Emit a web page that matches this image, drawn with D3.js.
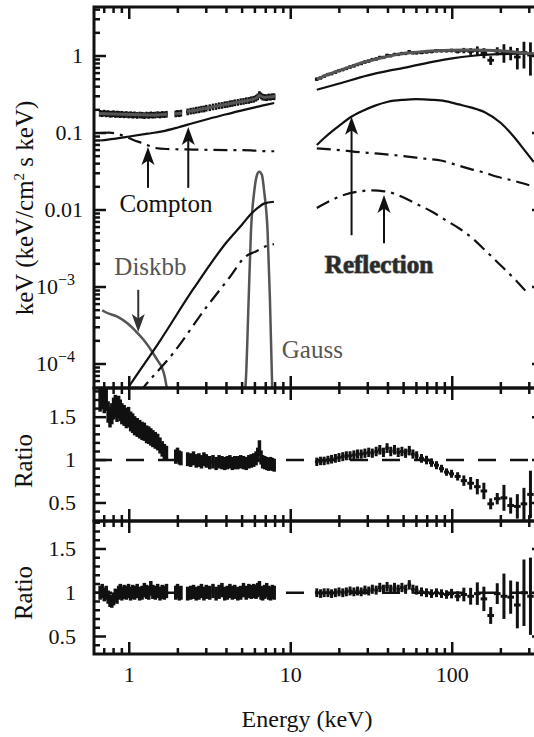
<!DOCTYPE html>
<html>
<head>
<meta charset="utf-8">
<script src="https://cdn.jsdelivr.net/npm/d3@7"></script>
<style>
  body { margin: 0; background: #fff; }
  svg { display: block; }
</style>
</head>
<body>
<div id="chart"></div>
<script>
'use strict';

// ---- low energy band (XIS) ----
const xisEnergy = [0.66,0.68,0.70,0.72,0.74,0.76,0.78,0.80,0.82,0.84,0.86,0.88,0.90,0.93,0.96,0.99,1.02,1.05,1.08,1.12,1.16,1.20,1.24,1.28,1.32,1.36,1.40,1.45,1.50,1.55,1.60,1.65,1.70,
  1.94,1.99,2.04,2.09,
  2.30,2.40,2.50,2.60,2.70,2.80,2.90,3.00,3.15,3.30,3.45,3.60,3.75,3.90,4.05,4.20,4.35,4.50,4.70,4.90,5.10,5.30,5.50,5.70,5.90,6.10,6.25,6.40,6.55,6.70,6.90,7.10,7.30,7.50,7.70,7.90];
const xisFlux = [0.181,0.179,0.182,0.178,0.180,0.176,0.177,0.179,0.175,0.177,0.176,0.174,0.176,0.173,0.175,0.172,0.174,0.171,0.173,0.170,0.172,0.171,0.169,0.172,0.170,0.173,0.171,0.172,0.174,0.172,0.175,0.174,0.176,
  0.178,0.181,0.179,0.182,
  0.189,0.193,0.195,0.199,0.201,0.205,0.206,0.211,0.214,0.219,0.222,0.227,0.229,0.234,0.236,0.241,0.243,0.248,0.251,0.256,0.259,0.264,0.266,0.272,0.276,0.285,0.296,0.318,0.305,0.294,0.291,0.289,0.295,0.293,0.298,0.297];
const xisRatioPL = [1.70,1.73,1.68,1.71,1.56,1.50,1.54,1.60,1.63,1.57,1.62,1.58,1.54,1.52,1.49,1.50,1.45,1.43,1.40,1.38,1.36,1.34,1.33,1.30,1.29,1.27,1.25,1.23,1.21,1.17,1.13,1.10,1.08,
  1.04,1.06,1.03,1.02,
  1.01,1.00,1.02,0.99,1.00,0.98,1.01,0.99,0.97,0.98,0.96,0.98,0.97,0.96,0.97,0.98,0.96,0.97,0.97,0.98,0.97,0.96,0.98,0.99,1.00,1.02,1.06,1.14,1.03,0.98,0.97,0.96,0.95,0.96,0.95,0.94];
const xisRatioFit = [1.00,1.02,0.98,1.00,0.95,0.91,0.90,0.93,0.97,0.95,1.00,1.02,0.99,1.01,1.00,1.02,0.99,1.01,1.00,1.02,0.99,1.00,1.03,1.01,1.00,1.05,1.01,1.00,1.02,0.99,1.01,1.00,1.02,
  1.00,1.02,0.99,1.00,
  0.99,1.00,1.01,0.99,1.00,1.02,0.99,1.01,1.00,1.02,0.99,1.01,1.03,0.99,1.00,1.02,1.00,1.01,0.99,1.00,1.03,1.00,1.02,1.01,1.02,1.01,1.03,1.05,1.00,0.99,1.01,1.03,1.00,0.99,1.01,1.00];
const xisFluxErr = 0.1;
const xisRatioErr = 0.08;

// ---- high energy band (HXD) ----
const hxdEnergy = [14.5,15.3,16.1,17,17.9,18.9,19.9,21,22.1,23.3,24.6,25.9,27.3,28.8,30.4,32,33.8,35.6,37.5,39.5,41.6,43.9,46.3,48.8,
  51.4,54.2,57.1,60.2,64.5,69.3,74.4,79.9,85.8,92.2,99,108,118,130,143,157,173,190,209,230,253,278,305];
const hxdFlux = [0.50,0.52,0.545,0.575,0.59,0.615,0.645,0.665,0.69,0.72,0.745,0.775,0.80,0.835,0.86,0.90,0.915,0.96,0.96,1.02,1.01,1.05,1.05,1.08,
  1.08,1.14,1.10,1.10,1.11,1.13,1.14,1.17,1.17,1.17,1.18,1.15,1.18,1.15,1.18,1.10,0.88,1.16,1.12,1.10,0.97,1.11,1.03];
const hxdRatioPL = [0.98,0.99,0.99,1.00,1.01,1.02,1.03,1.04,1.05,1.05,1.06,1.07,1.07,1.08,1.09,1.08,1.10,1.12,1.09,1.14,1.10,1.12,1.09,1.10,
  1.08,1.11,1.07,1.05,1.02,1.00,0.97,0.94,0.90,0.86,0.84,0.81,0.76,0.73,0.69,0.64,0.49,0.55,0.56,0.47,0.46,0.49,0.60];
const hxdRatioFit = [1.00,0.99,1.00,1.00,0.99,1.00,1.01,1.00,1.01,1.02,1.01,1.02,1.01,1.03,1.02,1.04,1.03,1.06,1.04,1.07,1.04,1.06,1.04,1.06,
  1.04,1.09,1.04,1.03,1.01,1.00,0.99,1.00,0.99,0.98,0.99,0.96,0.98,0.96,0.99,0.93,0.74,0.99,0.96,0.95,0.86,1.00,0.96];
const hxdErr = [0.05,0.05,0.05,0.05,0.05,0.05,0.05,0.05,0.05,0.05,0.05,0.05,0.05,0.05,0.05,0.05,0.05,0.05,0.05,0.05,0.05,0.05,0.05,0.05,
  0.05,0.05,0.05,0.05,0.05,0.05,0.05,0.05,0.05,0.05,0.055,0.06,0.08,0.10,0.13,0.15,0.13,0.12,0.27,0.20,0.31,0.38,0.46];

// ---- model components, [energy keV, keV^2 flux] ----
const totalXis = [[0.65,0.179],[0.8,0.177],[1.0,0.174],[1.2,0.172],[1.45,0.171],[1.72,0.175],[1.8,null],
  [1.92,0.178],[2.12,0.181],[2.2,null],
  [2.28,0.19],[2.6,0.198],[3,0.21],[3.5,0.224],[4,0.236],[4.5,0.247],[5,0.257],[5.5,0.267],[5.9,0.276],[6.2,0.29],[6.4,0.31],[6.6,0.298],[6.9,0.29],[7.4,0.294],[8,0.30]];
const totalHxd = [[14.5,0.5],[17,0.575],[20,0.65],[24,0.74],[27,0.81],[30,0.86],[35,0.93],[40,0.99],[47.5,1.06],[55,1.1],[65,1.14],[80,1.17],[97,1.19],[120,1.2],[150,1.19],[197,1.17],[250,1.12],[303,1.08],[370,1.04]];
const comptonXis = [[0.66,0.080],[0.8,0.084],[1.0,0.09],[1.3,0.098],[1.6,0.105],[2.0,0.118],[2.5,0.135],[3,0.15],[4,0.175],[5,0.197],[6,0.215],[7,0.232],[7.9,0.245]];
const comptonHxd = [[14.5,0.365],[20,0.44],[30,0.56],[40,0.64],[50,0.70],[60,0.76],[80,0.86],[100,0.93],[130,1.0],[150,1.03],[200,1.06],[250,1.07],[300,1.07],[370,1.06]];
const comptonDashXis = [[0.66,0.100],[0.75,0.101],[0.85,0.097],[0.95,0.09],[1.06,0.081],[1.18,0.075],[1.29,0.070],[1.45,0.064],[1.7,0.062],[2.5,0.061],[4,0.060],[5,0.060],[6,0.059],[7,0.058],[7.9,0.058]];
const comptonDashHxd = [[14.5,0.063],[20,0.060],[25,0.057],[35,0.054],[50,0.050],[70,0.046],[85,0.044],[100,0.040],[130,0.034],[155,0.031],[190,0.027],[240,0.024],[300,0.021]];
const reflXis = [[0.95,4.4e-5],[1.02,5.5e-5],[1.5,1.8e-4],[2.5,9.5e-4],[4.04,3.9e-3],[5.0,6.5e-3],[5.65,8.8e-3],[6.3,0.0108],[6.82,0.0121],[7.87,0.0128]];
const reflHxd = [[14.5,0.070],[16,0.085],[18,0.105],[20,0.125],[24,0.165],[28,0.195],[33,0.225],[40,0.255],[50,0.27],[60,0.275],[75,0.27],[90,0.26],[110,0.235],[130,0.215],[160,0.185],[200,0.135],[240,0.09],[280,0.06],[320,0.042]];
const reflDashXis = [[1.15,4.2e-5],[1.22,4.9e-5],[1.87,1.38e-4],[3.01,5.5e-4],[4.2,1.35e-3],[5.26,2.5e-3],[6.09,2.9e-3],[7.07,3.4e-3],[7.87,3.6e-3]];
const reflDashHxd = [[14.5,0.0106],[18,0.0135],[22,0.016],[27,0.0175],[32,0.018],[38,0.0175],[45,0.016],[50,0.0145],[60,0.012],[75,0.0095],[90,0.0075],[110,0.0058],[130,0.0045],[160,0.003],[200,0.0019],[250,0.0012],[290,0.00085]];
const gaussLine = [[5.2,4.0e-5],[5.28,6.5e-5],[5.49,7.1e-4],[5.67,5.2e-3],[5.94,0.0173],[6.18,0.0285],[6.38,0.0314],[6.63,0.0285],[6.85,0.0173],[7.19,5.2e-3],[7.43,7.1e-4],[7.65,6.5e-5],[7.7,4.0e-5]];
const diskbbLine = [[0.68,5.0e-4],[0.7,4.8e-4],[0.85,4.1e-4],[0.97,3.4e-4],[1.11,2.6e-4],[1.23,2.05e-4],[1.37,1.5e-4],[1.49,1.13e-4],[1.6,8.8e-5],[1.66,6.8e-5],[1.71,4.8e-5]];

// ---- tick labels ----
const xTickVals = [1, 10, 100];
const xTickLabels = ['1', '10', '100'];
const fluxTickVals = [1, 0.1, 0.01, 1e-3, 1e-4];
const fluxTickLabels = ['1', '0.1', '0.01', '10^\u22123', '10^\u22124'];
const ratioTickVals = [0.5, 1, 1.5];
const ratioTickLabels = ['0.5', '1', '1.5'];

// ---- annotations (data coords) ----
const arrows = [
  {e: 1.306, from: 0.0194, to: 0.066, color: '#111'},
  {e: 2.32, from: 0.0194, to: 0.12, color: '#111'},
  {e: 1.137, from: 9.2e-4, to: 2.6e-4, color: '#333'},
  {e: 23.8, from: 4.7e-3, to: 0.163, color: '#111'},
  {e: 37.8, from: 3.7e-3, to: 0.0157, color: '#111'}
];
const notes = [
  {text: 'Compton', e: 1.687, v: 9.4e-3, kind: 'plain'},
  {text: 'Diskbb', e: 1.353, v: 1.43e-3, kind: 'gray'},
  {text: 'Gauss', e: 13.6, v: 1.19e-4, kind: 'gray'},
  {text: 'Reflection', e: 35.2, v: 1.51e-3, kind: 'bold'}
];

// ---------------- drawing ----------------
const width = 534, height = 737;
const left = 94, right = 544;
const topY = 7, midY = 388, lowY = 521, botY = 654;
const serif = "'Liberation Serif', 'Times New Roman', Times, 'DejaVu Serif', serif";

const svg = d3.select('#chart').append('svg')
  .attr('width', width)
  .attr('height', height)
  .attr('font-family', serif)
  .style('font-family', serif);

const x = d3.scaleLog().domain([0.605, 370]).range([left, right]);
const yFlux = d3.scaleLog().domain([4.88e-5, 4.33]).range([midY, topY]);
const yRatioA = d3.scaleLinear().domain([0.29, 1.84]).range([lowY, midY]);
const yRatioB = d3.scaleLinear().domain([0.30, 1.82]).range([botY, lowY]);

const panels = [
  {id: 'p0', y0: topY, y1: midY, y: yFlux},
  {id: 'p1', y0: midY, y1: lowY, y: yRatioA},
  {id: 'p2', y0: lowY, y1: botY, y: yRatioB}
];

const defs = svg.append('defs');
panels.forEach(function(p) {
  defs.append('clipPath').attr('id', 'clip-' + p.id)
    .append('rect')
    .attr('x', left).attr('y', p.y0)
    .attr('width', right - left).attr('height', p.y1 - p.y0);
  p.g = svg.append('g').attr('clip-path', 'url(#clip-' + p.id + ')');
});

function lineFor(y) {
  return d3.line()
    .defined(function(d) { return d[1] != null; })
    .x(function(d) { return x(d[0]); })
    .y(function(d) { return y(d[1]); })
    .curve(d3.curveMonotoneX);
}

function drawLine(g, data, y, color, w, dash) {
  g.append('path')
    .datum(data)
    .attr('d', lineFor(y))
    .attr('fill', 'none')
    .attr('stroke', color)
    .attr('stroke-width', w)
    .attr('stroke-dasharray', dash || null);
}

function drawCrosses(g, energies, vals, errs, y, isLog, w) {
  const n = energies.length;
  energies.forEach(function(e, i) {
    const lx = Math.log10(e);
    const dl = i > 0 ? lx - Math.log10(energies[i - 1]) : Infinity;
    const dr = i < n - 1 ? Math.log10(energies[i + 1]) - lx : Infinity;
    const hw = Math.min(dl, dr) / 2;
    const v = vals[i];
    const er = Array.isArray(errs) ? errs[i] : errs;
    const lo = isLog ? v * (1 - er) : v - er * v;
    const hi = isLog ? v * (1 + er) : v + er * v;
    g.append('line')
      .attr('x1', x(Math.pow(10, lx - hw))).attr('x2', x(Math.pow(10, lx + hw)))
      .attr('y1', y(v)).attr('y2', y(v))
      .attr('stroke', '#111').attr('stroke-width', w);
    g.append('line')
      .attr('x1', x(e)).attr('x2', x(e))
      .attr('y1', y(lo)).attr('y2', y(hi))
      .attr('stroke', '#111').attr('stroke-width', w);
  });
}

// top panel: spectrum + components
const gTop = panels[0].g;
drawLine(gTop, diskbbLine, yFlux, '#555', 2.5);
drawLine(gTop, gaussLine, yFlux, '#555', 2.5);
drawLine(gTop, reflXis, yFlux, '#111', 2.2);
drawLine(gTop, reflDashXis, yFlux, '#111', 2.2, '14,6,3,6');
drawLine(gTop, reflHxd, yFlux, '#111', 2.2);
drawLine(gTop, reflDashHxd, yFlux, '#111', 2.2, '14,6,3,6');
drawLine(gTop, comptonDashXis, yFlux, '#111', 2.2, '14,6,3,6');
drawLine(gTop, comptonDashHxd, yFlux, '#111', 2.2, '14,6,3,6');
drawLine(gTop, comptonXis, yFlux, '#111', 2.2);
drawLine(gTop, comptonHxd, yFlux, '#111', 2.2);
drawCrosses(gTop, xisEnergy, xisFlux, xisFluxErr, yFlux, true, 2.5);
drawCrosses(gTop, hxdEnergy, hxdFlux, hxdErr, yFlux, true, 2.8);
drawLine(gTop, totalXis, yFlux, '#555', 3);
drawLine(gTop, totalHxd, yFlux, '#555', 3);

// ratio panels
[[panels[1], xisRatioPL, hxdRatioPL, yRatioA], [panels[2], xisRatioFit, hxdRatioFit, yRatioB]].forEach(function(r) {
  const g = r[0].g, y = r[3];
  g.append('line')
    .attr('x1', left).attr('x2', right)
    .attr('y1', y(1)).attr('y2', y(1))
    .attr('stroke', '#111').attr('stroke-width', 2.5)
    .attr('stroke-dasharray', '18,14');
  drawCrosses(g, xisEnergy, r[1], xisRatioErr, y, false, 3.5);
  drawCrosses(g, hxdEnergy, r[2], hxdErr, y, false, 3);
});

// annotations
arrows.forEach(function(a) {
  const ax = x(a.e), y0 = yFlux(a.from), y1 = yFlux(a.to);
  const dir = y1 < y0 ? -1 : 1;
  const headLen = 18, headW = 6.5;
  svg.append('line')
    .attr('x1', ax).attr('x2', ax)
    .attr('y1', y0).attr('y2', y1 - dir * headLen * 0.5)
    .attr('stroke', a.color).attr('stroke-width', 2);
  svg.append('path')
    .attr('d', 'M' + ax + ',' + y1 + 'L' + (ax - headW) + ',' + (y1 - dir * headLen) +
      'L' + ax + ',' + (y1 - dir * headLen * 0.75) + 'L' + (ax + headW) + ',' + (y1 - dir * headLen) + 'Z')
    .attr('fill', a.color);
});

notes.forEach(function(n) {
  const t = svg.append('text')
    .attr('x', x(n.e)).attr('y', yFlux(n.v))
    .attr('text-anchor', 'middle')
    .attr('font-size', 25)
    .attr('fill', '#111')
    .text(n.text);
  if (n.kind === 'gray') t.attr('fill', '#555');
  if (n.kind === 'bold') {
    t.attr('font-weight', 'bold')
      .attr('fill', '#2a2a2a')
      .attr('stroke', '#777')
      .attr('stroke-width', 1.2)
      .style('paint-order', 'stroke');
  }
});

// frames and ticks
const axes = svg.append('g').attr('stroke', '#111').attr('fill', 'none');
const xt = x.ticks();
function isDecade(t) { return Math.abs(Math.log10(t) - Math.round(Math.log10(t))) < 1e-9; }

panels.forEach(function(p, k) {
  axes.append('rect')
    .attr('x', left).attr('y', p.y0)
    .attr('width', right - left).attr('height', p.y1 - p.y0)
    .attr('stroke-width', 3);

  xt.forEach(function(t) {
    const len = isDecade(t) ? 12 : 6;
    axes.append('line').attr('x1', x(t)).attr('x2', x(t))
      .attr('y1', p.y0).attr('y2', p.y0 + len).attr('stroke-width', 2.5);
    axes.append('line').attr('x1', x(t)).attr('x2', x(t))
      .attr('y1', p.y1).attr('y2', p.y1 - len).attr('stroke-width', 2.5);
  });

  let yt;
  if (k === 0) {
    yt = p.y.ticks().map(function(t) { return {t: t, major: isDecade(t)}; });
  } else {
    yt = d3.range(3, 19).map(function(i) { return {t: i / 10, major: i % 5 === 0}; });
  }
  yt.forEach(function(d) {
    const yy = p.y(d.t);
    if (yy < p.y0 + 1 || yy > p.y1 - 1) return;
    const len = d.major ? 12 : 6;
    axes.append('line').attr('x1', left).attr('x2', left + len)
      .attr('y1', yy).attr('y2', yy).attr('stroke-width', 2.5);
    axes.append('line').attr('x1', right).attr('x2', right - len)
      .attr('y1', yy).attr('y2', yy).attr('stroke-width', 2.5);
  });
});

// tick labels
const labels = svg.append('g').attr('fill', '#111');

xTickVals.forEach(function(t, i) {
  labels.append('text')
    .attr('x', x(t)).attr('y', 682)
    .attr('text-anchor', 'middle')
    .attr('font-size', 22)
    .text(xTickLabels[i]);
});

fluxTickVals.forEach(function(t, i) {
  const parts = fluxTickLabels[i].split('^');
  const t0 = labels.append('text')
    .attr('x', parts.length > 1 ? 75 : 83)
    .attr('y', yFlux(t) + 7)
    .attr('text-anchor', 'end')
    .attr('font-size', 22);
  t0.append('tspan').text(parts[0]);
  if (parts.length > 1) {
    t0.append('tspan').attr('dy', -9).attr('font-size', 16).text(parts[1]);
  }
});

[yRatioA, yRatioB].forEach(function(y) {
  ratioTickVals.forEach(function(t, i) {
    labels.append('text')
      .attr('x', 76).attr('y', y(t) + 7)
      .attr('text-anchor', 'end')
      .attr('font-size', 22)
      .text(ratioTickLabels[i]);
  });
});

// axis titles
labels.append('text')
  .attr('x', 307).attr('y', 727)
  .attr('text-anchor', 'middle')
  .attr('font-size', 24)
  .text('Energy (keV)');

const yTitle = labels.append('text')
  .attr('transform', 'translate(33,208) rotate(-90)')
  .attr('text-anchor', 'middle')
  .attr('font-size', 25);
yTitle.append('tspan').text('keV (keV/cm');
yTitle.append('tspan').attr('dy', -9).attr('font-size', 15).text('2');
yTitle.append('tspan').attr('dy', 9).text(' s keV)');

[461, 593].forEach(function(cy) {
  labels.append('text')
    .attr('transform', 'translate(32,' + cy + ') rotate(-90)')
    .attr('text-anchor', 'middle')
    .attr('font-size', 25)
    .text('Ratio');
});
</script>
</body>
</html>
